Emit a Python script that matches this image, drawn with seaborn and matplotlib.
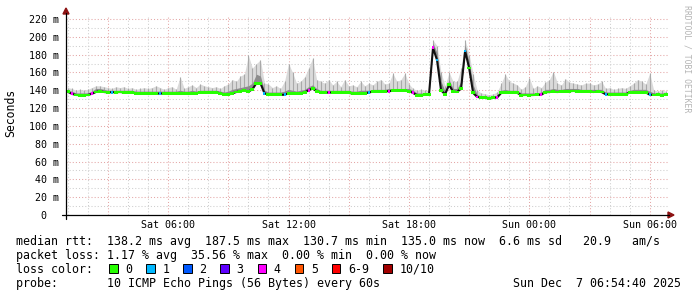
import numpy as np
import pandas as pd
import matplotlib
matplotlib.use("Agg")
import matplotlib.pyplot as plt
import matplotlib.dates as mdates
from matplotlib.patches import Rectangle, Polygon
from matplotlib.lines import Line2D
import seaborn as sns

# ---------------- data ----------------
median_ms = [
    138.4, 136.0, 134.7, 134.5, 134.5, 134.7, 136.0, 138.0, 139.0, 138.0,
    137.6, 137.8, 137.8, 138.0, 137.6, 137.8, 137.6, 136.3, 136.2, 136.2,
    136.2, 136.4, 136.2, 136.3, 136.5, 136.4, 136.3, 136.5, 136.4, 136.5,
    136.4, 136.5, 136.6, 137.5, 137.8, 137.7, 137.8, 137.7, 136.5, 135.0,
    135.0, 136.5, 138.0, 139.0, 139.5, 138.5, 141.0, 148.0, 148.0, 136.5,
    135.0, 135.0, 135.2, 134.8, 135.0, 136.5, 136.5, 136.3, 136.5, 137.5,
    140.0, 142.0, 139.0, 137.7, 137.5, 137.3, 137.5, 137.8, 137.6, 137.0,
    137.0, 136.3, 136.0, 136.3, 136.5, 137.5, 138.4, 138.6, 138.5, 138.7,
    139.0, 139.3, 139.5, 139.5, 139.3, 139.0, 137.0, 134.5, 134.5, 134.8,
    135.0, 187.5, 174.0, 140.0, 135.4, 146.0, 138.4, 138.0, 142.0, 184.0,
    165.0, 137.0, 132.5, 131.8, 131.5, 130.7, 131.5, 132.0, 137.0, 137.3,
    137.3, 137.5, 137.0, 134.5, 134.7, 134.5, 134.6, 134.8, 135.0, 137.8,
    138.0, 138.2, 138.0, 138.3, 138.5, 139.0, 139.2, 138.8, 138.4, 138.2,
    138.3, 138.0, 138.4, 138.0, 135.5, 135.2, 135.3, 135.2, 135.4, 135.3,
    137.5, 137.7, 137.8, 137.7, 137.6, 135.0, 134.7, 134.8, 134.5, 135.0,
]
smoke_hi_ms = [
    143, 142, 140, 141, 140, 141, 143, 145, 145, 144,
    143, 142, 144, 143, 144, 142, 143, 141, 142, 143,
    142, 143, 145, 143, 141, 143, 144, 141, 155, 142,
    144, 146, 143, 147, 145, 144, 143, 144, 142, 145,
    147, 152, 150, 156, 158, 179, 165, 170, 174, 148,
    147, 143, 145, 142, 150, 170, 160, 148, 150, 155,
    165, 176, 152, 150, 148, 152, 146, 150, 144, 152,
    145, 146, 144, 150, 145, 148, 146, 150, 152, 147,
    148, 159, 150, 152, 159, 147, 142, 140, 141, 140,
    140, 196, 190, 160, 145, 160, 150, 150, 165, 196,
    180, 158, 140, 137, 136, 135, 136, 138, 148, 158,
    150, 148, 146, 141, 144, 154, 142, 145, 143, 149,
    152, 161, 148, 146, 153, 149, 148, 147, 146, 148,
    148, 146, 147, 150, 142, 143, 141, 142, 143, 142,
    145, 148, 152, 150, 147, 159, 140, 139, 140, 139,
]
smoke_mid_ms = [
    140, 139, 137, 137, 137, 137, 139, 142, 142, 141,
    140, 140, 140, 140, 140, 140, 140, 139, 139, 139,
    139, 139, 139, 139, 139, 139, 139, 139, 140, 139,
    139, 140, 139, 140, 140, 140, 140, 140, 139, 138,
    139, 141, 142, 143, 144, 145, 148, 158, 156, 140,
    138, 138, 138, 138, 139, 141, 140, 139, 140, 141,
    144, 146, 142, 140, 140, 140, 140, 140, 140, 140,
    140, 139, 139, 140, 140, 140, 141, 141, 141, 141,
    142, 142, 142, 142, 142, 142, 140, 137, 137, 137,
    137, 193, 182, 150, 139, 152, 142, 142, 150, 191,
    172, 146, 135, 134, 134, 133, 134, 134, 140, 141,
    140, 140, 140, 137, 137, 137, 137, 137, 138, 141,
    141, 142, 141, 141, 142, 142, 142, 142, 141, 141,
    141, 141, 141, 141, 138, 138, 138, 138, 138, 138,
    140, 141, 141, 141, 141, 139, 137, 137, 137, 137,
]
lost_pings = [
    0, 4, 0, 0, 0, 0, 4, 0, 0, 0,
    0, 1, 0, 0, 0, 0, 0, 0, 0, 0,
    0, 0, 0, 1, 0, 0, 0, 0, 0, 0,
    0, 0, 0, 0, 0, 0, 0, 0, 0, 0,
    0, 0, 0, 0, 0, 0, 0, 0, 0, 1,
    0, 0, 0, 0, 1, 0, 0, 0, 0, 0,
    4, 0, 0, 0, 0, 4, 0, 0, 0, 0,
    0, 0, 0, 0, 0, 1, 0, 0, 0, 0,
    4, 0, 0, 0, 0, 0, 4, 0, 0, 0,
    0, 4, 1, 0, 0, 0, 0, 0, 0, 1,
    0, 0, 4, 0, 0, 0, 0, 4, 0, 0,
    0, 0, 0, 0, 0, 0, 0, 0, 4, 0,
    0, 0, 0, 0, 0, 0, 0, 0, 0, 0,
    0, 0, 0, 0, 1, 0, 0, 0, 0, 0,
    0, 0, 0, 0, 0, 1, 0, 0, 0, 0,
]
sample_start = "2025-12-06 01:00"
sample_step = "12min"
view_start = "2025-12-06 00:54:40"
view_end = "2025-12-07 06:54:40"

y_ticks = [0, 20, 40, 60, 80, 100, 120, 140, 160, 180, 200, 220]
y_tick_labels = ["0  ", "20 m", "40 m", "60 m", "80 m", "100 m", "120 m",
                 "140 m", "160 m", "180 m", "200 m", "220 m"]
loss_labels = ["0", "1", "2", "3", "4", "5", "6-9", "10/10"]
loss_colors = ["#26ff00", "#00b8ff", "#0059ff", "#5e00ff", "#ff00ff",
               "#ff5500", "#ff0000", "#a10000"]

median_stats = ["138.2", "187.5", "130.7", "135.0", "6.6", "20.9"]
loss_stats = ["1.17", "35.56", "0.00", "0.00"]
probe_text = "10 ICMP Echo Pings (56 Bytes) every 60s"
stamp_text = "Sun Dec  7 06:54:40 2025"

# ---------------- style ----------------
sns.set_theme(style="white")
plt.rcParams["font.family"] = ["DejaVu Sans Mono", "DejaVu Sans"]

W, H = 697, 297
fig = plt.figure(figsize=(W / 100, H / 100), dpi=100, facecolor="white")


def fx(px):
    return px / W


def fy(py):
    return 1 - py / H


ax = fig.add_axes([fx(66), fy(215), fx(668) - fx(66), fy(14.5) - fy(215)])
ax.set_facecolor("white")
for s in ax.spines.values():
    s.set_visible(False)

times = pd.date_range(sample_start, periods=len(median_ms), freq=sample_step)
xs = mdates.date2num(times.to_pydatetime())
x0 = mdates.date2num(pd.Timestamp(view_start).to_pydatetime())
x1 = mdates.date2num(pd.Timestamp(view_end).to_pydatetime())
med = np.array(median_ms)

ax.set_xlim(x0, x1)
ax.set_ylim(0, 225)

# grid (dotted, rrdtool style)
minor_col = "#cfcfcf"
major_col = "#e4a6a6"
dots = (0, (1, 2))
for v in range(10, 225, 10):
    ax.axhline(v, color=major_col if v % 20 == 0 else minor_col, lw=0.75,
               ls=dots, zorder=0.5)
for h in pd.date_range("2025-12-06 01:00", view_end, freq="1h"):
    xv = mdates.date2num(h.to_pydatetime())
    ax.axvline(xv, color=major_col if h.hour % 3 == 0 else minor_col, lw=0.75,
               ls=dots, zorder=0.5)

# smoke: light haze up to the highest ping, thin spikes, darker middle band
ax.fill_between(xs, med, smoke_hi_ms, color="#dadada", lw=0, zorder=0.9)
ax.vlines(xs, med, smoke_hi_ms, color="#a9a9a9", lw=0.8, zorder=1)
ax.fill_between(xs, med, smoke_mid_ms, color="#8c8c8c", lw=0, zorder=1.1)
sns.lineplot(x=xs, y=med, color="#111111", lw=1.5, ax=ax, zorder=1.5)

# median coloured by loss
def loss_index(n):
    if n <= 5:
        return n
    if n < 10:
        return 6
    return 7


step_days = xs[1] - xs[0]
bar_cols = [loss_colors[loss_index(n)] for n in lost_pings]
bar_w = [step_days if n == 0 else step_days * 0.5 for n in lost_pings]
ax.bar(xs, 3.2, bottom=med - 1.6, width=bar_w, color=bar_cols,
       linewidth=0, zorder=2)

# ticks
ax.set_yticks(y_ticks)
ax.set_yticklabels(y_tick_labels)
ax.xaxis.set_major_locator(mdates.HourLocator(byhour=[0, 6, 12, 18]))
ax.xaxis.set_major_formatter(mdates.DateFormatter("%a %H:%M"))
ax.tick_params(axis="y", length=0, pad=4.7, labelsize=7.2, labelcolor="black")
ax.tick_params(axis="x", length=0, pad=3.4, labelsize=7.2, labelcolor="black")
ax.grid(False)

# axis lines and arrows
axis_col = "#000000"
arrow_col = "#8c1212"
fig.add_artist(Line2D([fx(62), fx(669)], [fy(215), fy(215)], color=axis_col,
                      lw=0.9, transform=fig.transFigure))
fig.add_artist(Line2D([fx(66), fx(66)], [fy(219), fy(13)], color=axis_col,
                      lw=0.9, transform=fig.transFigure))
fig.add_artist(Polygon([[fx(668), fy(212)], [fx(674), fy(215)], [fx(668), fy(218)]],
                       closed=True, color=arrow_col, transform=fig.transFigure))
fig.add_artist(Polygon([[fx(63), fy(14)], [fx(66), fy(8)], [fx(69), fy(14)]],
                       closed=True, color=arrow_col, transform=fig.transFigure))

# y label and watermark
fig.text(fx(11), fy(113), "Seconds", rotation=90, ha="center", va="center",
         fontsize=8.3, color="black")
fig.text(fx(687.5), fy(5), "RRDTOOL / TOBI OETIKER", rotation=270, ha="center",
         va="top", fontsize=5.9, color="#b4b4b4")

# legend text
fs = 8.4
lx = fx(16)
line1 = ("median rtt:  {} ms avg  {} ms max  {} ms min  {} ms now  {} ms sd   {}   am/s"
         .format(*median_stats))
line2 = "packet loss: {} % avg  {} % max  {} % min  {} % now".format(*loss_stats)
fig.text(lx, fy(245.5), line1, fontsize=fs, va="baseline", color="black")
fig.text(lx, fy(259.3), line2, fontsize=fs, va="baseline", color="black")
fig.text(lx, fy(273), "loss color:", fontsize=fs, va="baseline", color="black")
fig.text(lx, fy(286.8), "probe:       " + probe_text, fontsize=fs, va="baseline",
         color="black")
fig.text(fx(681), fy(286.8), stamp_text, fontsize=fs, va="baseline", ha="right",
         color="black")

char_w = 7.05
bx = 109.0
for lab, col in zip(loss_labels, loss_colors):
    fig.add_artist(Rectangle((fx(bx), fy(272.5)), fx(8.5), 8.5 / H,
                             facecolor=col, edgecolor="black", lw=0.7,
                             transform=fig.transFigure))
    fig.text(fx(bx + 16), fy(273), lab, fontsize=fs, va="baseline", color="black")
    bx += 16 + (len(lab) + 2) * char_w

fig.savefig("out.png", dpi=100, facecolor="white")
